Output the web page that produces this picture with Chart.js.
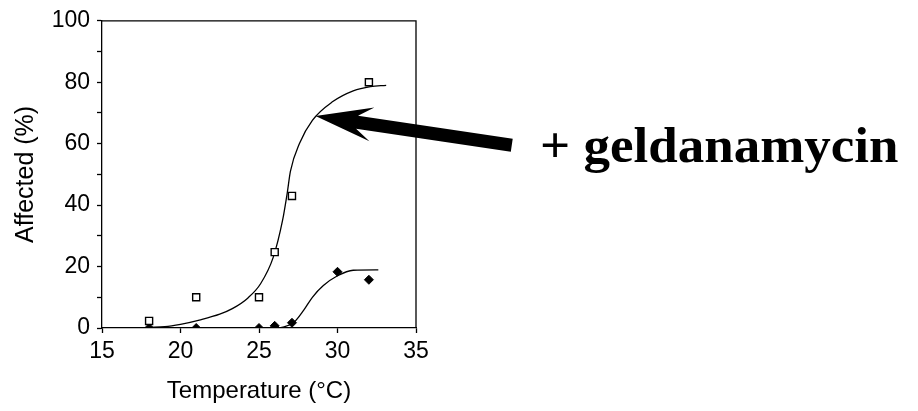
<!DOCTYPE html>
<html>
<head>
<meta charset="utf-8">
<title>Affected vs temperature</title>
<script src="https://cdn.jsdelivr.net/npm/chart.js@4.4.1/dist/chart.umd.min.js"></script>
<style>
    html, body { margin: 0; padding: 0; background: #fff; }
    #grafico { display: block; }
</style>
</head>
<body>
<canvas id="grafico" width="918" height="411"></canvas>
<script>
// puntos medidos (cuadrados abiertos = + geldanamycin)
const tempsGeld = [18, 21, 25, 26, 27.1, 32];
const afectadosGeld = [2.3, 10, 10, 24.7, 43, 80];

// puntos medidos (diamantes llenos = control)
const tempsControl = [18, 21, 25, 26, 27.1, 30, 32];
const afectadosControl = [0, 0, 0, 0.7, 1.7, 18.3, 15.7];

// curvas ajustadas
const curvaTempsGeld = [18, 19, 20, 21.2, 22.5, 23.3, 24.3, 25.1, 25.9, 26.5, 26.8, 27.0, 27.6, 28.4, 29.7, 31.0, 32.1, 33.1];
const curvaGeld = [0.2, 0.4, 1.2, 2.6, 4.5, 6.3, 9.8, 14.4, 22.9, 35, 44, 51, 60.3, 67.6, 73.7, 77.2, 78.6, 79];

const curvaTempsControl = [18, 20, 22, 24, 26, 26.6, 27.2, 27.85, 28.4, 29.1, 30, 31, 32.6];
const curvaControl = [0, 0, 0, 0, 0, 0.4, 1.7, 5.8, 10, 13.8, 17, 18.8, 18.9];

// ejes
const ticksX = [15, 20, 25, 30, 35];
const ticksYConEtiqueta = [0, 20, 40, 60, 80, 100];

// anotacion (en unidades de datos)
const textoAnotacion = "+ geldanamycin";
const puntaFlecha = { x: 28.6, y: 69 };
const colaFlecha = { x: 41.1, y: 59.5 };
const posTexto = { x: 42.9, y: 54 };

function aPuntos(xs, ys) {
    return xs.map((x, i) => ({ x: x, y: ys[i] }));
}

const marcoYAnotacion = {
    id: "marcoYAnotacion",
    afterDatasetsDraw(chart) {
        const { ctx, chartArea, scales } = chart;
        ctx.save();
        // marco superior y derecho
        ctx.strokeStyle = "#000";
        ctx.lineWidth = 1.3;
        ctx.beginPath();
        ctx.moveTo(chartArea.left, chartArea.top);
        ctx.lineTo(chartArea.right, chartArea.top);
        ctx.lineTo(chartArea.right, chartArea.bottom);
        ctx.stroke();

        // flecha
        const tx = scales.x.getPixelForValue(puntaFlecha.x);
        const ty = scales.y.getPixelForValue(puntaFlecha.y);
        const cx = scales.x.getPixelForValue(colaFlecha.x);
        const cy = scales.y.getPixelForValue(colaFlecha.y);
        const largo = Math.hypot(cx - tx, cy - ty);
        const ang = Math.atan2(cy - ty, cx - tx);
        ctx.translate(tx, ty);
        ctx.rotate(ang);
        ctx.fillStyle = "#000";
        ctx.beginPath();
        ctx.moveTo(0, 0);
        ctx.lineTo(57, -17);
        ctx.lineTo(42, -6.5);
        ctx.lineTo(largo, -6.5);
        ctx.lineTo(largo, 6.5);
        ctx.lineTo(42, 6.5);
        ctx.lineTo(57, 17);
        ctx.closePath();
        ctx.fill();
        ctx.setTransform(1, 0, 0, 1, 0, 0);

        // texto (un poco ensanchado como en el original)
        ctx.font = "bold 50px 'Liberation Serif', 'Times New Roman', serif";
        ctx.textBaseline = "alphabetic";
        ctx.textAlign = "left";
        ctx.translate(scales.x.getPixelForValue(posTexto.x), scales.y.getPixelForValue(posTexto.y));
        ctx.scale(1.06, 1);
        ctx.fillText(textoAnotacion, 0, 0);
        ctx.restore();
    }
};

const fuente = { family: "'Liberation Sans', Arial, Helvetica, sans-serif", size: 23 };
const fuenteTituloX = { family: "'Liberation Sans', Arial, Helvetica, sans-serif", size: 24 };
const fuenteTituloY = { family: "'Liberation Sans', Arial, Helvetica, sans-serif", size: 25 };

new Chart(document.getElementById("grafico").getContext("2d"), {
    type: "scatter",
    data: {
        datasets: [
            {
                data: aPuntos(tempsGeld, afectadosGeld),
                pointStyle: "rect",
                pointRadius: 5,
                backgroundColor: "#fff",
                borderColor: "#000",
                borderWidth: 1.4,
                order: 0
            },
            {
                data: aPuntos(tempsControl, afectadosControl),
                pointStyle: "rectRot",
                pointRadius: 4.5,
                backgroundColor: "#000",
                borderColor: "#000",
                borderWidth: 1,
                order: 0
            },
            {
                data: aPuntos(curvaTempsGeld, curvaGeld),
                showLine: true,
                pointRadius: 0,
                borderColor: "#000",
                borderWidth: 1.3,
                cubicInterpolationMode: "monotone",
                order: 1
            },
            {
                data: aPuntos(curvaTempsControl, curvaControl),
                showLine: true,
                pointRadius: 0,
                borderColor: "#000",
                borderWidth: 1.3,
                cubicInterpolationMode: "monotone",
                order: 1
            }
        ]
    },
    options: {
        responsive: false,
        animation: false,
        layout: { padding: { top: 17, right: 502, left: 0, bottom: 0 } },
        plugins: {
            legend: { display: false },
            tooltip: { enabled: false }
        },
        scales: {
            x: {
                type: "linear",
                min: 15,
                max: 35,
                afterFit: s => { s.height = 83; },
                afterBuildTicks: s => { s.ticks = ticksX.map(v => ({ value: v })); },
                ticks: { color: "#000", font: fuente, padding: 5, maxRotation: 0 },
                grid: { drawOnChartArea: false, drawTicks: true, tickLength: 5, tickColor: "#000", tickWidth: 1.3 },
                border: { display: true, color: "#000", width: 1.3 },
                title: { display: true, text: "Temperature (°C)", color: "#000", font: fuenteTituloX, padding: { top: 0, bottom: 5 } }
            },
            y: {
                type: "linear",
                min: 0,
                max: 100,
                afterFit: s => { s.width = 102; },
                ticks: {
                    stepSize: 10,
                    color: "#000",
                    font: fuente,
                    padding: 7,
                    callback: v => ticksYConEtiqueta.includes(v) ? String(v) : ""
                },
                grid: { drawOnChartArea: false, drawTicks: true, tickLength: 5, tickColor: "#000", tickWidth: 1.3 },
                border: { display: true, color: "#000", width: 1.3 },
                title: { display: true, text: "Affected (%)", color: "#000", font: fuenteTituloY, padding: { top: 11, bottom: 0 } }
            }
        }
    },
    plugins: [marcoYAnotacion]
});
</script>
</body>
</html>
